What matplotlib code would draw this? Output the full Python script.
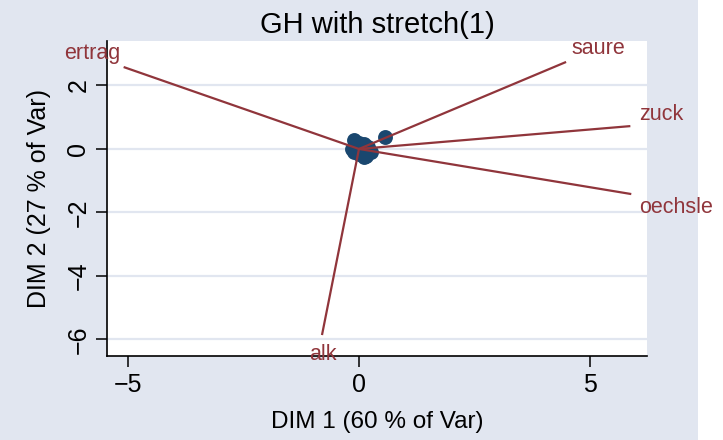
import matplotlib
matplotlib.use("Agg")
import matplotlib.pyplot as plt
from matplotlib.patches import Rectangle

plt.rcParams['font.family'] = ['Liberation Sans', 'DejaVu Sans']

# ---- data ----
variables = ["ertrag", "saure", "zuck", "oechsle", "alk"]
var_dim1 = [-5.09, 4.48, 5.87, 5.89, -0.80]
var_dim2 = [2.58, 2.74, 0.72, -1.42, -5.86]

obs_dim1 = [-0.10, 0.00, 0.10, -0.15, 0.05, 0.20, 0.25, 0.15, 0.00, -0.10, 0.10, -0.05, 0.56]
obs_dim2 = [0.28, 0.20, 0.15, 0.00, 0.02, 0.05, -0.10, -0.22, -0.15, -0.08, -0.25, 0.10, 0.38]

xticks = [-5, 0, 5]
yticks = [-6, -4, -2, 0, 2]
title = "GH with stretch(1)"
xlabel = "DIM 1 (60 % of Var)"
ylabel = "DIM 2 (27 % of Var)"

# ---- styles ----
bg = '#E1E6F0'
maroon = '#90353B'
navy = '#1A476F'
# label offsets (points) and alignment for each variable label
label_offsets = [(-2, 10), (4, 10), (6, 8), (6, -10), (1, -14)]
label_align = [('right', 'center'), ('left', 'center'), ('left', 'center'),
               ('left', 'center'), ('center', 'center')]

W, H = 723, 440
fig = plt.figure(figsize=(W / 100, H / 100), dpi=100, facecolor=bg)
fig.patches.append(Rectangle((698 / W, 0), 1 - 698 / W, 1, transform=fig.transFigure,
                             facecolor='white', edgecolor='none', zorder=-10))
ax = fig.add_axes([107 / W, 1 - 356 / H, (647 - 107) / W, (356 - 41) / H])
ax.set_facecolor('white')

ax.set_xlim(-5.45, 6.23)
ax.set_ylim(-6.52, 3.40)

ax.set_yticks(yticks)
ax.set_xticks(xticks)
ax.set_xticklabels([('\u2212' + str(-t)) if t < 0 else str(t) for t in xticks])
ax.set_yticklabels([('\u2212' + str(-t)) if t < 0 else str(t) for t in yticks],
                   rotation=90, va='center')
ax.grid(axis='y', color=bg, linewidth=1.6, zorder=0)
ax.set_axisbelow(True)

for s in ['top', 'right']:
    ax.spines[s].set_visible(False)
for s in ['left', 'bottom']:
    ax.spines[s].set_linewidth(1.2)
    ax.spines[s].set_color('black')
ax.tick_params(axis='both', direction='out', length=8, width=1.1, labelsize=18,
               colors='black', pad=4)

ax.scatter(obs_dim1, obs_dim2, s=115, color=navy, zorder=2, linewidths=0)

for name, x, y, off, al in zip(variables, var_dim1, var_dim2, label_offsets, label_align):
    ax.plot([0, x], [0, y], color=maroon, linewidth=1.6, zorder=3, solid_capstyle='butt')
    ax.annotate(name, (x, y), xytext=off, textcoords='offset points',
                ha=al[0], va=al[1], color=maroon, fontsize=15.5, zorder=5,
                annotation_clip=False)

ax.set_title(title, fontsize=21, pad=6)
ax.set_xlabel(xlabel, fontsize=17.5, labelpad=10)
ax.set_ylabel(ylabel, fontsize=18, labelpad=11)

fig.savefig('out.png', dpi=100, facecolor=bg)
